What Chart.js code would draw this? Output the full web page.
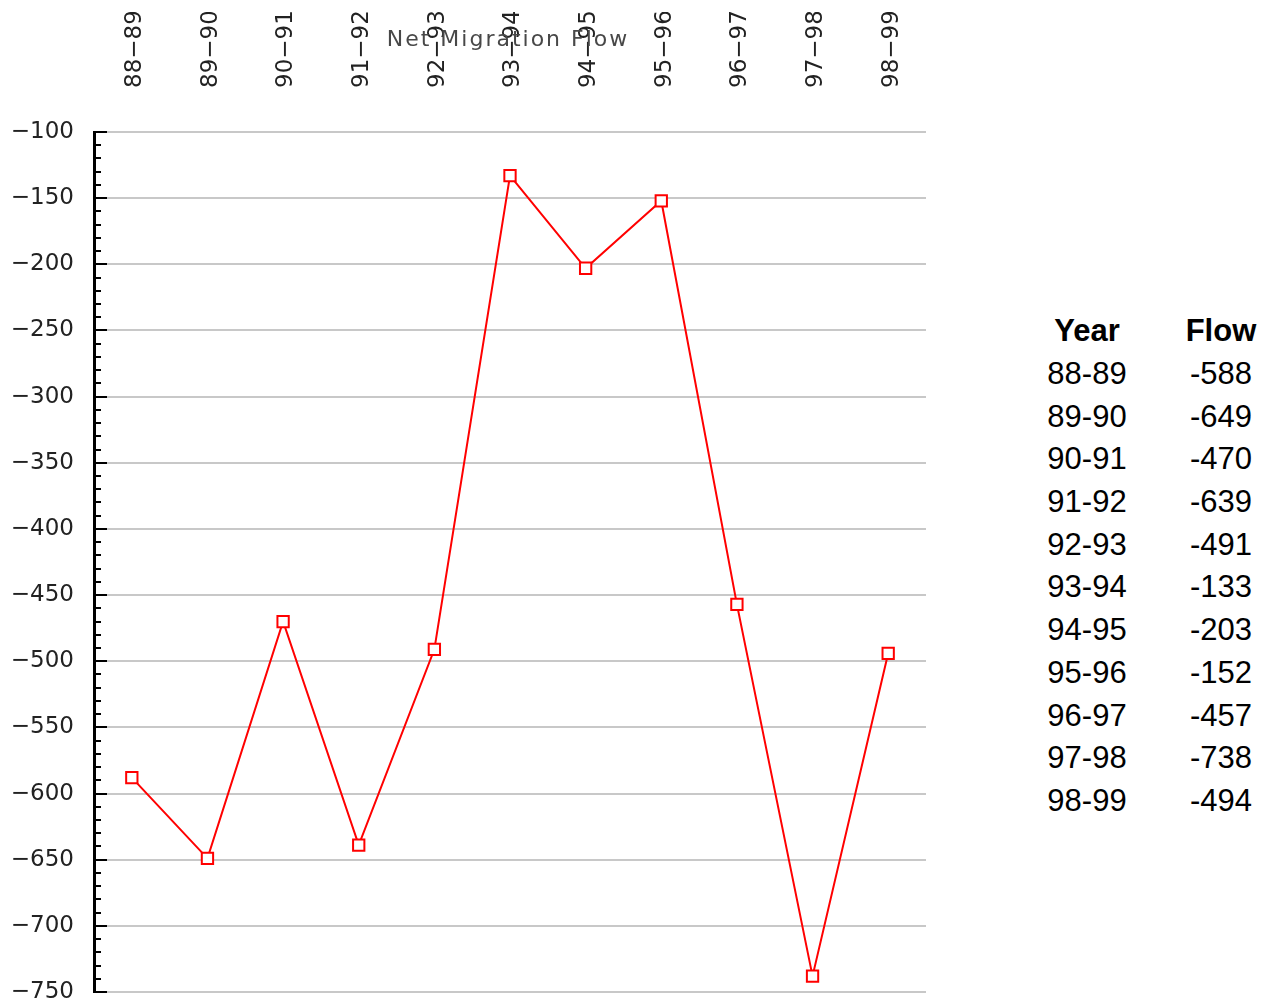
<!DOCTYPE html>
<html>
<head>
<meta charset="utf-8">
<script src="https://cdn.jsdelivr.net/npm/chart.js@4.4.0/dist/chart.umd.min.js"></script>
<style>
  html, body { margin: 0; background: #fff; overflow: hidden; }
  #wrap { position: absolute; left: 0; top: 0; width: 960px; height: 1005px; }
  #flowTable { position: absolute; left: 1020px; top: 310px; width: 268px; table-layout: fixed;
    border-collapse: collapse; font-family: "Liberation Sans", Arial, sans-serif; font-size: 31px; color: #000; }
  #flowTable td, #flowTable th { width: 134px; height: 42.7px; padding: 0; text-align: center; white-space: nowrap; }
  #flowTable th { font-weight: bold; }
</style>
</head>
<body>
<div id="wrap"><canvas id="myChart"></canvas></div>
<table id="flowTable"></table>
<script>
const years = ['88-89', '89-90', '90-91', '91-92', '92-93', '93-94', '94-95', '95-96', '96-97', '97-98', '98-99'];
const flows = [-588, -649, -470, -639, -491, -133, -203, -152, -457, -738, -494];
const yMin = -750;
const yMax = -100;
const chartTitle = 'Net Migration Flow';

// side table
const table = document.getElementById('flowTable');
let html = '<tr><th>Year</th><th>Flow</th></tr>';
years.forEach((y, i) => { html += '<tr><td>' + y + '</td><td>' + flows[i] + '</td></tr>'; });
table.innerHTML = html;

// tick marks drawn inside the axis, long ones every 50, short every 10
const innerTicks = {
  id: 'innerTicks',
  afterDatasetsDraw(chart) {
    const ys = chart.scales.y;
    const ctx = chart.ctx;
    ctx.save();
    ctx.strokeStyle = '#000';
    ctx.lineWidth = 2;
    ys.ticks.forEach(t => {
      const py = Math.round(ys.getPixelForValue(t.value));
      const len = t.value % 50 === 0 ? 13 : 7;
      ctx.beginPath();
      ctx.moveTo(ys.right, py);
      ctx.lineTo(ys.right + len, py);
      ctx.stroke();
    });
    ctx.restore();
  }
};

// title overlaps the rotated labels, so draw it by hand
const overlapTitle = {
  id: 'overlapTitle',
  afterDraw(chart) {
    const ctx = chart.ctx;
    const a = chart.chartArea;
    ctx.save();
    ctx.font = '22px "DejaVu Sans"';
    ctx.letterSpacing = '2px';
    ctx.fillStyle = '#484848';
    ctx.textAlign = 'center';
    ctx.textBaseline = 'middle';
    ctx.fillText(chartTitle, (a.left + a.right) / 2 - 2, 40);
    ctx.restore();
  }
};

const ctx = document.getElementById('myChart').getContext('2d');
const myChart = new Chart(ctx, {
  type: 'line',
  data: {
    labels: years.map(y => y.replace('-', '\u2212')),
    datasets: [{
      label: chartTitle,
      data: flows,
      borderColor: '#ff0000',
      borderWidth: 2,
      tension: 0,
      pointStyle: 'rect',
      pointRadius: 8,
      pointHoverRadius: 8,
      pointBorderWidth: 2,
      pointBorderColor: '#ff0000',
      pointBackgroundColor: '#ffffff'
    }]
  },
  options: {
    responsive: true,
    maintainAspectRatio: false,
    animation: false,
    layout: { padding: { top: 12, left: 12, right: 34, bottom: 13 } },
    plugins: { legend: { display: false }, title: { display: false }, tooltip: { enabled: false } },
    scales: {
      x: {
        position: 'top',
        offset: true,
        grid: { display: false },
        border: { display: false },
        afterFit: s => { s.height = 120; },
        ticks: {
          minRotation: 90,
          maxRotation: 90,
          padding: 36,
          labelOffset: 31,
          color: '#222',
          font: { family: 'DejaVu Sans', size: 23 }
        }
      },
      y: {
        min: yMin,
        max: yMax,
        afterFit: s => { s.width = 82; s.paddingTop = 0; s.paddingBottom = 0; },
        grid: {
          drawTicks: false,
          lineWidth: 2,
          color: c => (c.tick && c.tick.value % 50 === 0) ? '#c8c8c8' : 'rgba(0,0,0,0)'
        },
        border: { display: true, color: '#000', width: 3 },
        ticks: {
          stepSize: 10,
          autoSkip: false,
          padding: 20,
          color: '#222',
          font: { family: 'DejaVu Sans', size: 23 },
          callback: v => v % 50 === 0 ? String(v).replace('-', '\u2212') : ''
        }
      }
    }
  },
  plugins: [innerTicks, overlapTitle]
});
</script>
</body>
</html>
